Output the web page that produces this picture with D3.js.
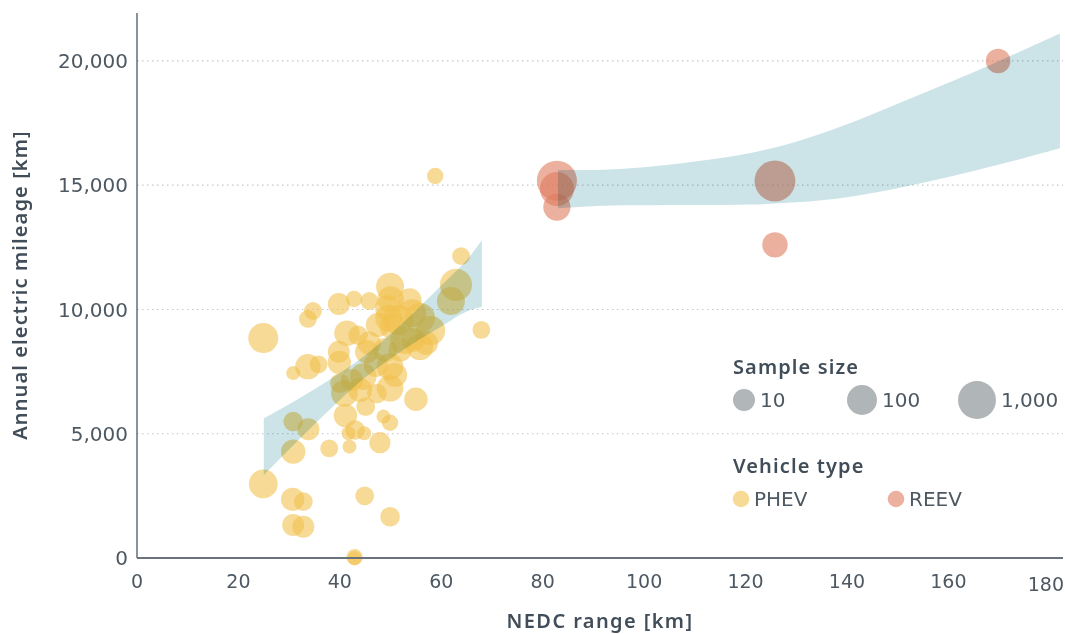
<!DOCTYPE html>
<html>
<head>
<meta charset="utf-8">
<script src="https://cdn.jsdelivr.net/npm/d3@7"></script>
<style>
  body { margin: 0; background: #fff; }
  svg text { fill: #44515c; }
  .tick { font-family: "DejaVu Sans", sans-serif; fill: #4d5862; }
  .ttl { font-family: "Noto Sans", "Open Sans", sans-serif; font-weight: 600; fill: #414e59; }
</style>
</head>
<body>
<svg id="chart" width="1065" height="634"></svg>
<script>
// PHEV bubbles: NEDC range [km], annual electric km, sample size
var phevRange = [24.9, 24.9, 58.8, 63.9, 62.9, 61.9, 67.9, 49.9, 39.8, 42.8, 45.8, 34.7, 33.7, 50.0,
  53.8, 54.3, 57.9, 50.5, 54.5, 51.9, 55.8, 41.4, 43.6, 45.8, 39.8, 45.3, 39.9, 33.7, 35.8, 30.8,
  49.9, 44.6, 40.0, 40.9, 49.9, 47.3, 55.0, 45.1, 41.1, 48.6, 49.9, 43.0, 41.7, 44.8, 47.9, 41.9,
  37.9, 30.8, 30.8, 33.8, 30.7, 32.8, 30.8, 32.8, 44.9, 49.9, 42.9, 42.9, 51.5, 55.8, 52.7, 49.5,
  47.5, 57.0, 48.9, 47.1, 50.9, 44.0, 42.4, 49.6]
var phevMileage = [8850, 2980, 15370, 12150, 10990, 10340, 9180, 10920, 10220, 10420, 10340, 9940, 9620, 10400,
  10380, 9850, 9150, 9310, 8770, 8370, 8500, 9040, 8960, 8640, 8300, 8300, 7870, 7700, 7790, 7440,
  7700, 7300, 7030, 6630, 6830, 6620, 6390, 6090, 5730, 5690, 5440, 5150, 5020, 5020, 4640, 4480,
  4410, 4280, 5490, 5180, 2360, 2270, 1330, 1260, 2500, 1660, 30, 0, 9580, 9660, 8770, 10060,
  9380, 8650, 8370, 7770, 7360, 6760, 7160, 9650]
var phevSample = [100, 70, 2, 3, 180, 56, 3, 56, 10, 2, 3, 3, 3, 38,
  15, 56, 80, 38, 15, 15, 38, 27, 5, 15, 10, 15, 15, 27, 3, 1,
  38, 38, 5, 38, 38, 5, 15, 4, 15, 1, 2, 5, 1, 1, 8, 1,
  3, 20, 5, 10, 15, 4, 10, 10, 4, 5, 2, 1, 100, 100, 56, 30,
  18, 18, 18, 18, 18, 18, 10, 38]

// REEV bubbles
var reevRange = [82.8, 82.8, 82.8, 125.8, 125.8, 169.8]
var reevMileage = [15180, 14850, 14120, 15170, 12600, 20000]
var reevSample = [1800, 320, 45, 2300, 27, 21]

// regression bands (lower / upper bound)
var phevBandX = [25, 30, 35, 40, 45, 50, 55, 60, 65, 68]
var phevBandLo = [3340, 4370, 5385, 6360, 7260, 8030, 8700, 9315, 9920, 10100]
var phevBandHi = [5620, 6190, 6795, 7440, 8160, 9010, 9960, 10965, 11980, 12800]

var reevBandX = [83, 92, 100, 110, 121, 130, 140, 150, 160, 170, 182]
var reevBandLo = [14070, 14170, 14190, 14200, 14220, 14310, 14520, 14880, 15330, 15830, 16490]
var reevBandHi = [15610, 15620, 15720, 15950, 16300, 16750, 17450, 18280, 19120, 20000, 21110]

var xTicks = [0, 20, 40, 60, 80, 100, 120, 140, 160, 180]
var yTicks = [0, 5000, 10000, 15000, 20000]
var legendSizes = [10, 100, 1000]
var types = ["PHEV", "REEV"]
var typeColors = {PHEV: "#f2c14e", REEV: "#e07b5f"}

var svg = d3.select("#chart")

var x = d3.scaleLinear().domain([0, 182.6]).range([137, 1063])
var y = d3.scaleLinear().domain([0, 21930]).range([558, 13])
var r = d3.scaleLog().domain([1, 1000]).range([7, 19])

// grid
svg.append("g").selectAll("line")
    .data(yTicks.filter(function(d){ return d > 0 }))
    .enter().append("line")
    .attr("x1", x(0)).attr("x2", x(182.6))
    .attr("y1", function(d){ return y(d) }).attr("y2", function(d){ return y(d) })
    .attr("stroke", "#c3c8cc").attr("stroke-width", 1.2)
    .attr("stroke-dasharray", "1.5,3.5")

// bubbles
var pts = []
phevRange.forEach(function(d, i){ pts.push({t: "PHEV", x: d, y: phevMileage[i], n: phevSample[i]}) })
reevRange.forEach(function(d, i){ pts.push({t: "REEV", x: d, y: reevMileage[i], n: reevSample[i]}) })

svg.append("g").selectAll("circle")
    .data(pts)
    .enter().append("circle")
    .attr("cx", function(d){ return x(d.x) })
    .attr("cy", function(d){ return y(d.y) })
    .attr("r", function(d){ return r(d.n) })
    .attr("fill", function(d){ return typeColors[d.t] })
    .attr("fill-opacity", 0.6)

// bands, multiplied over the bubbles
function band(xs, lo, hi) {
    var rows = xs.map(function(d, i){ return {x: d, lo: lo[i], hi: hi[i]} })
    return d3.area()
        .x(function(d){ return x(d.x) })
        .y0(function(d){ return y(d.lo) })
        .y1(function(d){ return y(d.hi) })
        .curve(d3.curveCatmullRom)(rows)
}
svg.append("path").attr("d", band(phevBandX, phevBandLo, phevBandHi))
    .attr("fill", "#cce4e8").style("mix-blend-mode", "multiply")
svg.append("path").attr("d", band(reevBandX, reevBandLo, reevBandHi))
    .attr("fill", "#cce4e8").style("mix-blend-mode", "multiply")

// axes
svg.append("line").attr("x1", 137).attr("x2", 137).attr("y1", y(21930)).attr("y2", 558)
    .attr("stroke", "#3d4a55").attr("stroke-width", 1.2)
svg.append("line").attr("x1", 137).attr("x2", x(182.6)).attr("y1", 558).attr("y2", 558)
    .attr("stroke", "#6a737b").attr("stroke-width", 2)

svg.append("g").selectAll("text")
    .data(yTicks).enter().append("text")
    .attr("class", "tick")
    .attr("x", 128).attr("y", function(d){ return y(d) })
    .attr("dy", "0.36em").attr("text-anchor", "end")
    .style("font-size", "20px")
    .text(d3.format(","))

svg.append("g").selectAll("text")
    .data(xTicks).enter().append("text")
    .attr("class", "tick")
    .attr("x", function(d){ return d === 180 ? 1064 : x(d) })
    .attr("y", function(d){ return d === 180 ? 591 : 588 })
    .attr("text-anchor", function(d){ return d === 180 ? "end" : "middle" })
    .style("font-size", "19px")
    .text(function(d){ return d })

svg.append("text")
    .attr("class", "ttl")
    .attr("transform", "translate(27,285) rotate(-90)")
    .attr("text-anchor", "middle")
    .style("font-size", "20px").style("letter-spacing", "1.1px")
    .text("Annual electric mileage [km]")

svg.append("text")
    .attr("class", "ttl")
    .attr("x", 600).attr("y", 628)
    .attr("text-anchor", "middle")
    .style("font-size", "20px").style("letter-spacing", "1.4px")
    .text("NEDC range [km]")

// legend
var lg = svg.append("g")
lg.append("text").attr("class", "ttl").attr("x", 733).attr("y", 374)
    .style("font-size", "20px").style("letter-spacing", "1.1px").text("Sample size")
var sizeX = [744, 862, 977]
lg.selectAll(".sz").data(legendSizes).enter().append("circle")
    .attr("cx", function(d, i){ return sizeX[i] }).attr("cy", 400)
    .attr("r", function(d){ return r(d) })
    .attr("fill", "#b0b5b8")
lg.selectAll(".szl").data(legendSizes).enter().append("text")
    .attr("class", "tick")
    .attr("x", function(d, i){ return sizeX[i] + r(d) + 5 }).attr("y", 400)
    .attr("dy", "0.36em")
    .style("font-size", "20px")
    .text(d3.format(","))

lg.append("text").attr("class", "ttl").attr("x", 733).attr("y", 473)
    .style("font-size", "20px").style("letter-spacing", "1.1px").text("Vehicle type")
var typeX = [741, 896]
lg.selectAll(".tp").data(types).enter().append("circle")
    .attr("cx", function(d, i){ return typeX[i] }).attr("cy", 499)
    .attr("r", 8.3)
    .attr("fill", function(d){ return typeColors[d] }).attr("fill-opacity", 0.6)
lg.selectAll(".tpl").data(types).enter().append("text")
    .attr("class", "tick")
    .attr("x", function(d, i){ return typeX[i] + 13 }).attr("y", 499)
    .attr("dy", "0.36em")
    .style("font-size", "20px")
    .text(function(d){ return d })
</script>
</body>
</html>
